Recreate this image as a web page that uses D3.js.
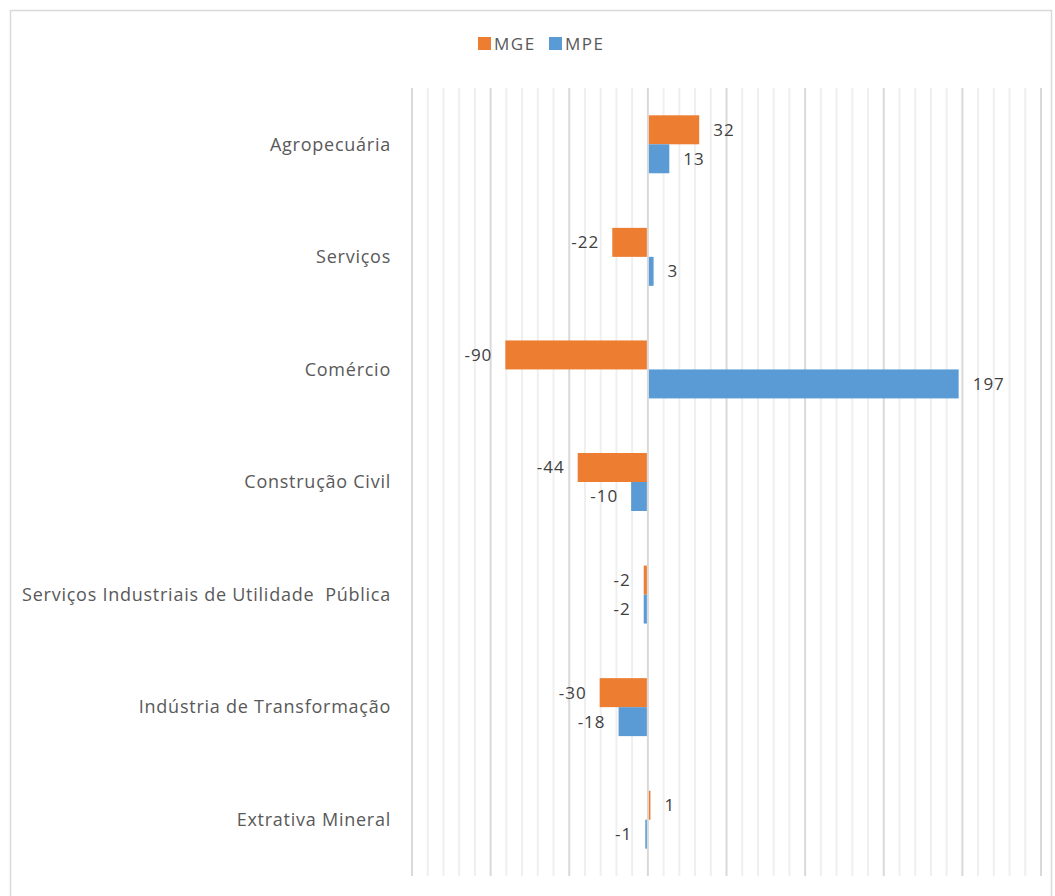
<!DOCTYPE html>
<html>
<head>
<meta charset="utf-8">
<script src="https://cdn.jsdelivr.net/npm/d3@7"></script>
<style>
  body { margin: 0; background: #fff; }
  text { font-family: "Open Sans", sans-serif; }
</style>
</head>
<body>
<div id="chart"></div>
<script>
// categories top -> bottom
const categories = [
    "Agropecuária",
    "Serviços",
    "Comércio",
    "Construção Civil",
    "Serviços Industriais de Utilidade  Pública",
    "Indústria de Transformação",
    "Extrativa Mineral"
];
const seriesNames = ["MGE", "MPE"];
const mgeValues = [32, -22, -90, -44, -2, -30, 1];
const mpeValues = [13, 3, 197, -10, -2, -18, -1];
const colors = { MGE: "#ED7D31", MPE: "#5B9BD5" };

const width = 1055, height = 896;

const svg = d3.select("#chart")
    .append("svg")
    .attr("width", width)
    .attr("height", height);

// chart border
svg.append("rect")
    .attr("x", 10.5).attr("y", 10.5)
    .attr("width", 1041).attr("height", 900)
    .attr("fill", "#fff")
    .attr("stroke", "#d9d9d9")
    .attr("stroke-width", 1.5);

const x = d3.scaleLinear()
    .domain([-150, 250])
    .range([412, 1041]);

const y = d3.scaleBand()
    .domain(categories)
    .range([88, 876])
    .paddingInner(0.485)
    .paddingOuter(0.2425);

const ySub = d3.scaleBand()
    .domain(seriesNames)
    .range([0, y.bandwidth()]);

// gridlines: minor every 10, major every 50
const minorTicks = d3.range(-150, 251, 10).filter(d => d % 50 !== 0);
const majorTicks = d3.range(-150, 251, 50);

svg.append("g")
    .selectAll("line")
    .data(minorTicks)
    .join("line")
    .attr("x1", d => x(d)).attr("x2", d => x(d))
    .attr("y1", 88).attr("y2", 876)
    .attr("stroke", "#efefef")
    .attr("stroke-width", 2);

svg.append("g")
    .selectAll("line")
    .data(majorTicks)
    .join("line")
    .attr("x1", d => x(d)).attr("x2", d => x(d))
    .attr("y1", 88).attr("y2", 876)
    .attr("stroke", "#d9d9d9")
    .attr("stroke-width", 2);

const rows = categories.map((c, i) => ({ cat: c, MGE: mgeValues[i], MPE: mpeValues[i] }));

const groups = svg.append("g")
    .selectAll("g")
    .data(rows)
    .join("g")
    .attr("transform", d => `translate(0,${y(d.cat)})`);

const bars = groups.selectAll("g")
    .data(d => seriesNames.map(s => ({ key: s, value: d[s] })))
    .join("g");

bars.append("rect")
    .attr("x", d => d.value >= 0 ? x(0) + 1 : x(d.value) - 1)
    .attr("y", d => ySub(d.key))
    .attr("width", d => Math.max(1, Math.abs(x(d.value) - x(0))))
    .attr("height", ySub.bandwidth())
    .attr("fill", d => colors[d.key]);

bars.append("text")
    .attr("x", d => d.value >= 0 ? x(d.value) + 15 : x(d.value) - 14)
    .attr("y", d => ySub(d.key) + ySub.bandwidth() / 2)
    .attr("dy", "0.35em")
    .attr("text-anchor", d => d.value >= 0 ? "start" : "end")
    .attr("font-size", 17)
    .attr("letter-spacing", 1)
    .attr("fill", "#404040")
    .text(d => d.value);

// category labels
svg.append("g")
    .selectAll("text")
    .data(categories)
    .join("text")
    .attr("x", 391)
    .attr("y", d => y(d) + y.bandwidth() / 2)
    .attr("dy", "0.35em")
    .attr("text-anchor", "end")
    .attr("font-size", 18)
    .attr("letter-spacing", 0.75)
    .attr("fill", "#595959")
    .style("white-space", "pre")
    .text(d => d);

// legend
const legend = svg.append("g");
const legendItems = [
    { key: "MGE", x: 478 },
    { key: "MPE", x: 549 }
];
legend.selectAll("rect")
    .data(legendItems)
    .join("rect")
    .attr("x", d => d.x).attr("y", 37)
    .attr("width", 13).attr("height", 13)
    .attr("fill", d => colors[d.key]);
legend.selectAll("text")
    .data(legendItems)
    .join("text")
    .attr("x", d => d.x + 16)
    .attr("y", 44)
    .attr("dy", "0.35em")
    .attr("font-size", 17)
    .attr("letter-spacing", 1.5)
    .attr("fill", "#595959")
    .text(d => d.key);
</script>
</body>
</html>
